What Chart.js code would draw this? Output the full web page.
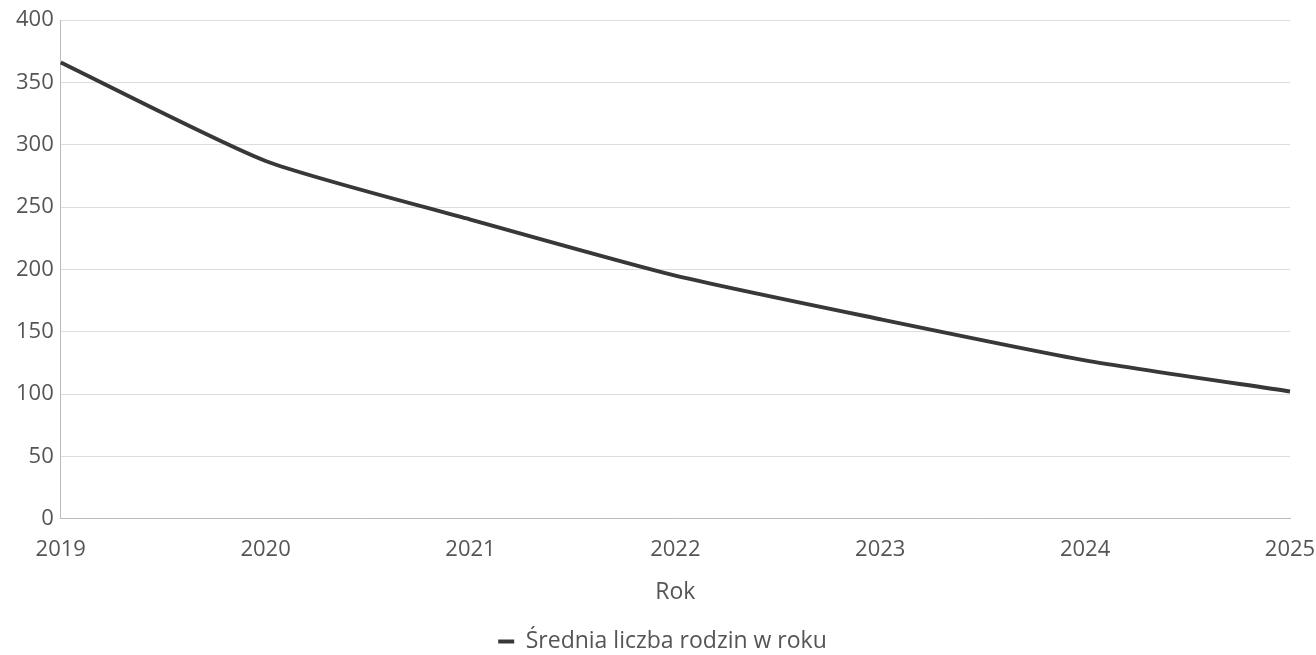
<!DOCTYPE html>
<html>
<head>
<meta charset="utf-8">
<script src="https://cdn.jsdelivr.net/npm/chart.js@4"></script>
<style>
  html, body { margin: 0; padding: 0; background: #fff; }
  #wrap { width: 1316px; height: 655px; }
</style>
</head>
<body>
<div id="wrap"><canvas id="familyChart"></canvas></div>
<script>
const years = ['2019', '2020', '2021', '2022', '2023', '2024', '2025'];
const avgFamilies = [366, 287, 240, 195, 160, 127, 102];
const yTicks = [0, 50, 100, 150, 200, 250, 300, 350, 400];

Chart.defaults.font.family = "'Open Sans', sans-serif";
Chart.defaults.color = '#555';

const ctx = document.getElementById('familyChart');

new Chart(ctx, {
  type: 'line',
  data: {
    labels: years,
    datasets: [{
      label: 'Średnia liczba rodzin w roku',
      data: avgFamilies,
      borderColor: '#383838',
      backgroundColor: '#383838',
      borderWidth: 4,
      pointRadius: 0,
      pointStyle: 'line',
      tension: 0.2
    }]
  },
  options: {
    responsive: true,
    maintainAspectRatio: false,
    animation: false,
    layout: {
      padding: { top: 8, left: 9, right: 0, bottom: -8 }
    },
    scales: {
      x: {
        grid: { display: false, drawTicks: false },
        border: { color: '#bbb' },
        ticks: { font: { size: 22 }, padding: 18, maxRotation: 0 },
        title: { display: true, text: 'Rok', font: { size: 23, lineHeight: 1 }, padding: { top: 0, bottom: 22 } },
        afterFit: (scale) => { scale.paddingRight = 26; } // ticks.padding gets added to the edge room otherwise
      },
      y: {
        min: 0,
        max: 400,
        afterBuildTicks: (axis) => { axis.ticks = yTicks.map(v => ({ value: v })); },
        grid: { color: '#ddd', drawTicks: false },
        border: { color: '#bbb' },
        ticks: { font: { size: 22 }, padding: 7 }
      }
    },
    plugins: {
      legend: {
        position: 'bottom',
        labels: {
          font: { size: 23 },
          usePointStyle: true,
          pointStyleWidth: 16,
          padding: 4
        }
      },
      tooltip: { enabled: false }
    }
  }
});
</script>
</body>
</html>
